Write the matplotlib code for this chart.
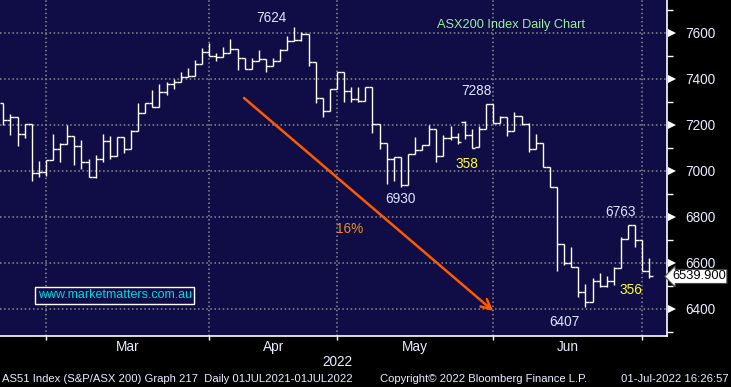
import matplotlib
matplotlib.use("Agg")
import matplotlib.pyplot as plt
from matplotlib.collections import LineCollection
from matplotlib import transforms

plt.rcParams['font.family'] = ['Liberation Sans', 'DejaVu Sans']

# dzienne slupki OHLC, od konca lutego do 1 lipca 2022
opens = [7293, 7220, 7232, 7158, 7202, 6989, 6993, 7045, 7093, 7116,
         7151, 7107, 7036, 6974, 7049, 7128, 7062, 7146, 7093, 7173,
         7249, 7294, 7275, 7341, 7375, 7386, 7406, 7410, 7462, 7515,
         7497, 7493, 7510, 7528, 7488, 7441, 7477, 7484, 7455, 7475,
         7525, 7564, 7567, 7594, 7471, 7315, 7259, 7354, 7430, 7348,
         7313, 7302, 7365, 7202, 7122, 7049, 7061, 6936, 7073, 7090,
         7110, 7180, 7064, 7141, 7145, 7213, 7155, 7102, 7180, 7288,
         7209, 7232, 7171, 7238, 7202, 7093, 7119, 7015, 6928, 6680,
         6597, 6583, 6474, 6429, 6520, 6499, 6522, 6576, 6702, 6763,
         6699, 6564]
highs = [7293, 7245, 7232, 7202, 7202, 7042, 7045, 7160, 7119, 7199,
         7151, 7133, 7051, 7068, 7160, 7151, 7146, 7146, 7177, 7294,
         7294, 7351, 7377, 7386, 7399, 7429, 7446, 7481, 7532, 7555,
         7512, 7538, 7572, 7528, 7488, 7488, 7525, 7484, 7488, 7528,
         7586, 7624, 7601, 7594, 7471, 7315, 7354, 7430, 7430, 7365,
         7365, 7365, 7365, 7202, 7122, 7061, 7061, 7073, 7145, 7112,
         7199, 7180, 7155, 7194, 7162, 7216, 7180, 7194, 7288, 7288,
         7238, 7232, 7255, 7238, 7206, 7160, 7119, 7015, 6928, 6680,
         6667, 6583, 6507, 6532, 6554, 6542, 6580, 6710, 6763, 6763,
         6699, 6619]
lows = [7199, 7157, 7109, 7144, 6957, 6974, 6977, 7045, 7038, 7116,
        7025, 7009, 6974, 6970, 7039, 7052, 7062, 7078, 7093, 7173,
        7249, 7275, 7275, 7330, 7357, 7386, 7406, 7410, 7462, 7497,
        7478, 7493, 7510, 7439, 7441, 7441, 7477, 7430, 7455, 7475,
        7525, 7564, 7564, 7457, 7293, 7235, 7259, 7354, 7300, 7300,
        7300, 7302, 7162, 7093, 6941, 6955, 6930, 6936, 7073, 7090,
        7110, 7039, 7064, 7133, 7115, 7136, 7100, 7102, 7180, 7209,
        7206, 7152, 7171, 7200, 7081, 7093, 7015, 6928, 6565, 6590,
        6580, 6450, 6407, 6429, 6493, 6493, 6503, 6576, 6702, 6667,
        6564, 6535]
closes = [7220, 7232, 7158, 7202, 6989, 6993, 7045, 7093, 7116, 7151,
          7107, 7036, 6974, 7049, 7128, 7062, 7146, 7093, 7173, 7249,
          7294, 7275, 7341, 7375, 7386, 7406, 7410, 7462, 7515, 7497,
          7493, 7510, 7528, 7488, 7441, 7477, 7484, 7455, 7475, 7525,
          7564, 7567, 7594, 7471, 7315, 7259, 7354, 7430, 7348, 7313,
          7302, 7365, 7202, 7122, 7049, 7061, 6936, 7073, 7090, 7110,
          7180, 7064, 7141, 7145, 7126, 7155, 7100, 7180, 7288, 7209,
          7232, 7171, 7238, 7202, 7093, 7119, 7015, 6928, 6680, 6597,
          6583, 6474, 6429, 6520, 6499, 6522, 6576, 6702, 6763, 6699,
          6564, 6539.9]

# indeksy slupkow, od ktorych zaczyna sie miesiac
month_starts = [6, 29, 47, 69, 90]
month_names = ['Mar', 'Apr', 'May', 'Jun']
y_ticks = [6400, 6600, 6800, 7000, 7200, 7400, 7600]
y_minor = [6300, 6500, 6700, 6900, 7100, 7300, 7500, 7700]

# etykiety na wykresie: (x, y, tekst, kolor)
labels = [(37.8, 7664, '7624', '#dde6ff'),
          (66.7, 7347, '7288', '#dde6ff'),
          (55.9, 6877, '6930', '#dde6ff'),
          (86.9, 6820, '6763', '#dde6ff'),
          (79.0, 6342, '6407', '#dde6ff'),
          (65.3, 7029, '358', '#ffff33'),
          (88.4, 6481, '356', '#ffff33'),
          (48.8, 6746, '16%', '#e8902a')]
arrow_from = (33.9, 7316)
arrow_to = (69.0, 6390)

NAVY = '#100d46'
GRID = '#8c8c8c'

fig = plt.figure(figsize=(7.31, 3.87), dpi=100, facecolor='black')
ax = fig.add_axes([0, 51 / 387, 667 / 731, 336 / 387], facecolor=NAVY)

segs = []
for i, (o, h, l, c) in enumerate(zip(opens, highs, lows, closes)):
    segs.append([(i, l), (i, h)])
    segs.append([(i - 0.5, o), (i, o)])
    segs.append([(i, c), (i + 0.5, c)])
ax.add_collection(LineCollection(segs, colors='white', linewidths=1.0, zorder=3))

ax.set_xlim(-0.465, 93.48)
ax.set_ylim(6281, 7742)

# siatka kropkowana
for x in month_starts:
    ax.axvline(x, color=GRID, lw=1.1, ls=(0, (1, 1.7)), zorder=1)
for y in y_ticks:
    ax.axhline(y, color=GRID, lw=1.1, ls=(0, (1, 1.7)), zorder=1)

for s in ['top', 'left']:
    ax.spines[s].set_visible(False)
for s in ['bottom', 'right']:
    ax.spines[s].set_color('white')
    ax.spines[s].set_linewidth(1.2)

ax.yaxis.tick_right()
ax.set_yticks(y_ticks)
ax.set_yticks(y_minor, minor=True)
ax.tick_params(axis='y', which='major', length=0, pad=13, labelsize=9.8, labelcolor='#e8eeff')
ax.tick_params(axis='y', which='minor', length=4, width=1, color='white', direction='out')

# trojkaty przy glownych podzialkach
tr = transforms.blended_transform_factory(ax.transAxes, ax.transData)
ax.plot([1.0 + 5 / 667] * len(y_ticks), y_ticks, marker='>', ms=5.5, mew=0, color='white',
        ls='none', transform=tr, clip_on=False)

mids = [(a + b) / 2 for a, b in zip(month_starts[:-1], month_starts[1:])]
ax.set_xticks(month_starts)
ax.set_xticklabels([])
ax.set_xticks(mids, minor=True)
ax.set_xticklabels(month_names, minor=True)
ax.tick_params(axis='x', which='major', length=3, width=1, color='white', direction='out')
ax.tick_params(axis='x', which='minor', length=0, pad=3, labelsize=9.8, labelcolor='#e8eeff')

for x, y, t, col in labels:
    ax.text(x, y, t, color=col, fontsize=9.8, ha='center', va='center', zorder=4)

ax.text(61.1, 7633, 'ASX200 Index Daily Chart', color='#99f099', fontsize=9.2,
        ha='left', va='center')

ax.annotate('', xy=arrow_to, xytext=arrow_from,
            arrowprops=dict(arrowstyle='->,head_length=0.7,head_width=0.35',
                            color='#ff5a00', lw=1.8, shrinkA=0, shrinkB=0), zorder=2)

ax.text(0.172, 0.122, 'www.marketmatters.com.au', transform=ax.transAxes, color='#00d8e0',
        fontsize=9.0, ha='center', va='center',
        bbox=dict(boxstyle='square,pad=0.2', fc=NAVY, ec='white', lw=1))

ax.text(1.0 + 5 / 667, closes[-1], '%.3f' % closes[-1], transform=tr, color='black',
        fontsize=9.3, ha='left', va='center', clip_on=False, zorder=5,
        bbox=dict(boxstyle='larrow,pad=0.08', fc='white', ec='#444444', lw=0.8))

fig.text(337 / 731, 1 - 362 / 387, '2022', color='#e8eeff', fontsize=9.8, ha='center', va='center')
fig.text(2 / 731, 1 - 379 / 387, 'AS51 Index (S&P/ASX 200) Graph 217  Daily 01JUL2021-01JUL2022',
         color='#e8eeff', fontsize=8.1, ha='left', va='center')
fig.text(380 / 731, 1 - 379 / 387, 'Copyright\u00a9 2022 Bloomberg Finance L.P.',
         color='#e8eeff', fontsize=8.1, ha='left', va='center')
fig.text(729 / 731, 1 - 379 / 387, '01-Jul-2022 16:26:57',
         color='#e8eeff', fontsize=8.1, ha='right', va='center')

fig.savefig('out.png', dpi=100, facecolor='black')
